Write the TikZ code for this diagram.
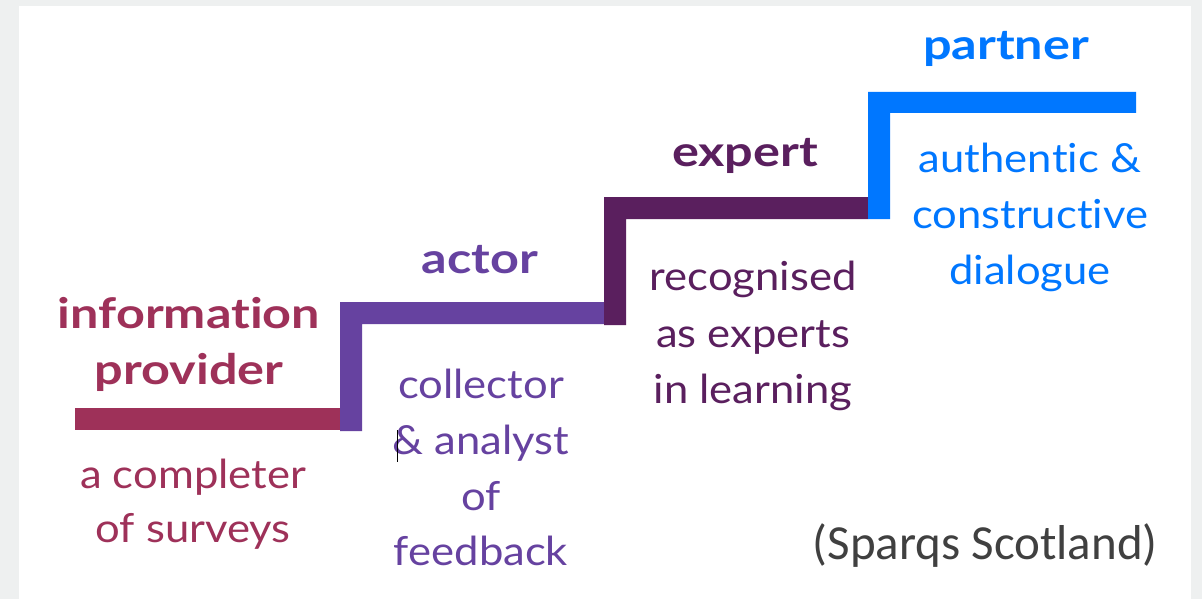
\documentclass[tikz,border=0pt]{standalone}
\usepackage{fontspec}
\setmainfont{Lato}[Ligatures={NoCommon,NoContextual},RawFeature={-liga;-clig;-dlig},FakeStretch=1.09]
\newfontfamily\headfont{Lato}[Ligatures={NoCommon,NoContextual},RawFeature={-liga;-clig;-dlig},FakeStretch=1.2]
\newfontfamily\credfont{Carlito}
\definecolor{bggray}{HTML}{EEF0F0}
\definecolor{crim}{HTML}{9E3159}
\definecolor{purp}{HTML}{6642A0}
\definecolor{dpurp}{HTML}{5A1F5E}
\definecolor{bblue}{HTML}{0077FF}
\definecolor{credgray}{HTML}{404040}
\begin{document}
\begin{tikzpicture}[x=1pt,y=-1pt,
  head/.style={inner sep=0pt,anchor=base,font=\headfont\fontsize{42}{50}\selectfont\bfseries},
  body/.style={inner sep=0pt,anchor=base,font=\fontsize{40}{48}\selectfont}]
\useasboundingbox (0,0) rectangle (1202,599);
\fill[bggray] (0,0) rectangle (1202,599);
\fill[white] (19,6) rectangle (1191,599);
% steps
\fill[crim] (75,408) rectangle (340,430);
\fill[purp] (340,431) -- (340,302) -- (604,302) -- (604,324) -- (362,324) -- (362,431) -- cycle;
\fill[dpurp] (604,325) -- (604,197) -- (868,197) -- (868,219) -- (626,219) -- (626,325) -- cycle;
\fill[bblue] (868,219) -- (868,92) -- (1136,92) -- (1136,113) -- (890,113) -- (890,219) -- cycle;
% step 1
\node[head,text=crim] (h1a) at (189,328) {informat\kern0pt ion};
\node[head,text=crim] (h1b) at (189,384) {provider};
\node[body,text=crim] (b1a) at (193,488) {a completer};
\node[body,text=crim] (b1b) at (193,542) {of surveys};
% step 2
\node[head,text=purp] (h2) at (480,273) {actor};
\node[body,text=purp] (b2a) at (481,398) {collector};
\node[body,text=purp] (b2b) at (481,454) {\&~analyst};
\node[body,text=purp] (b2c) at (481,510) {of};
\node[body,text=purp] (b2d) at (481,565) {feedback};
\coordinate (cur1) at (397,430);
\coordinate (cur2) at (397,462);
\draw[black,line width=1pt] (cur1) -- (cur2);
% step 3
\node[head,text=dpurp] (h3) at (745,167) {expert};
\node[body,text=dpurp] (b3a) at (753,290) {recognised};
\node[body,text=dpurp] (b3b) at (753,347) {as experts};
\node[body,text=dpurp] (b3c) at (753,403) {in learning};
% step 4
\node[head,text=bblue] (h4) at (1006,60) {partner};
\node[body,text=bblue] (b4a) at (1030,172) {authent\kern0pt ic \&};
\node[body,text=bblue] (b4b) at (1030,228) {construct\kern0pt ive};
\node[body,text=bblue] (b4c) at (1030,284) {dialogue};
% credit
\node[inner sep=0pt,anchor=base east,text=credgray,font=\credfont\fontsize{49}{58}\selectfont] (cred) at (1158,559) {(Sparqs Scotland)};
\end{tikzpicture}
\end{document}
